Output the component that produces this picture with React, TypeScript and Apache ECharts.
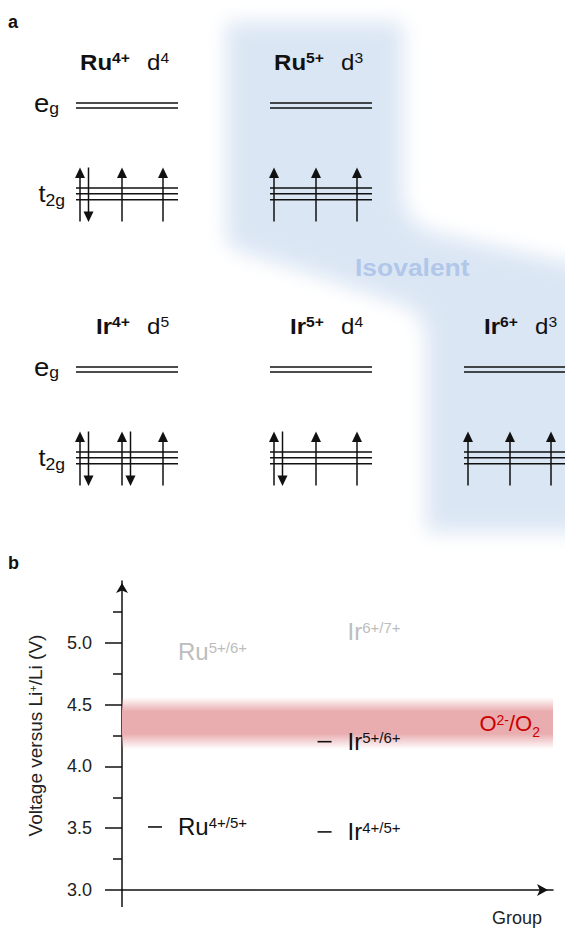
import React, { useEffect, useRef } from 'react';
import * as echarts from 'echarts';

const FONT = '"Liberation Sans", Arial, Helvetica, sans-serif';
const INK = '#111';

// ---------- panel a: t2g / eg diagrams ----------
const ions = ['Ru', 'Ru', 'Ir', 'Ir', 'Ir'];
const ionCharges = ['4+', '5+', '4+', '5+', '6+'];
const dCounts = ['4', '3', '5', '4', '3'];
const ionColumns = [0, 1, 0, 1, 2];
const ionRows = [0, 0, 1, 1, 1];
// electrons per t2g orbital (1 = up, 2 = up + down)
const t2gOccupancy = [
  [2, 1, 1],
  [1, 1, 1],
  [2, 2, 1],
  [2, 1, 1],
  [1, 1, 1],
];
const isovalentLabel = 'Isovalent';

// ---------- panel b: redox couples ----------
const coupleMetals = ['Ru', 'Ru', 'Ir', 'Ir', 'Ir'];
const coupleNames = ['4+/5+', '5+/6+', '4+/5+', '5+/6+', '6+/7+'];
const coupleVoltages = [3.51, 4.93, 3.47, 4.2, 5.09];
const coupleAccessible = [true, false, true, true, false];
const groupX: Record<string, number> = { Ru: 0.0766, Ir: 0.47 };
const oxygenBand = [4.14, 4.56];
const yRange = [3.0, 5.5];
const yMajorTicks = [3.0, 3.5, 4.0, 4.5, 5.0];
const yMinorTicks = [3.25, 3.75, 4.25, 4.75, 5.25];

const blueSvg =
  '<svg xmlns="http://www.w3.org/2000/svg" width="565" height="560" viewBox="0 0 565 560">' +
  '<defs><filter id="f" x="-20%" y="-20%" width="140%" height="140%"><feGaussianBlur stdDeviation="10"/></filter></defs>' +
  '<path d="M226 22 L403 22 L403 195 Q405 226 440 234 L565 262 L640 262 L640 532 L426 532 L426 336 Q424 312 400 304 L300 270 L242 252 Q226 247 226 235 Z" fill="#dbe6f4" filter="url(#f)"/>' +
  '</svg>';
const blueUrl = 'data:image/svg+xml;charset=utf-8,' + encodeURIComponent(blueSvg);

function tok(size: number, weight: string, pad?: number[]) {
  const t: any = { fontSize: size, fontWeight: weight, fontFamily: FONT, fill: INK };
  if (pad) t.padding = pad;
  return t;
}

function renderIon(params: any, api: any) {
  const i = params.dataIndex;
  const c = api.coord([api.value(0), api.value(1)]);
  const cx = c[0];
  const cy = c[1];
  const lw = 1.5;
  const children: any[] = [];
  const hline = (y: number) => ({
    type: 'line',
    shape: { x1: cx - 51, y1: y, x2: cx + 51, y2: y },
    style: { stroke: INK, lineWidth: lw },
  });
  [-2.5, 2.5].forEach((d) => children.push(hline(cy + d)));
  [82.5, 88.3, 94.2].forEach((d) => children.push(hline(cy + d)));
  const slots = [-47, -5, 36];
  t2gOccupancy[i].forEach((n, k) => {
    const x = cx + slots[k];
    children.push({
      type: 'line',
      shape: { x1: x, y1: cy + 116, x2: x, y2: cy + 70 },
      style: { stroke: INK, lineWidth: lw },
    });
    children.push({
      type: 'polygon',
      shape: { points: [[x, cy + 62], [x - 5, cy + 72.5], [x + 5, cy + 72.5]] },
      style: { fill: INK },
    });
    if (n === 2) {
      const xd = x + 8.5;
      children.push({
        type: 'line',
        shape: { x1: xd, y1: cy + 62, x2: xd, y2: cy + 108 },
        style: { stroke: INK, lineWidth: lw },
      });
      children.push({
        type: 'polygon',
        shape: { points: [[xd, cy + 116.5], [xd - 5, cy + 106], [xd + 5, cy + 106]] },
        style: { fill: INK },
      });
    }
  });
  children.push({
    type: 'text',
    x: cx + 3,
    y: cy - 43.5,
    scaleX: 1.12,
    style: {
      text: '{b|' + ions[i] + '}{bs|' + ionCharges[i] + '}',
      rich: { b: tok(21.5, 'bold'), bs: tok(14, 'bold', [0, 0, 7, 0]) },
      align: 'right',
      verticalAlign: 'middle',
      fill: INK,
    },
  });
  children.push({
    type: 'text',
    x: cx + 20,
    y: cy - 43.5,
    scaleX: 1.12,
    style: {
      text: '{r|d}{rs|' + dCounts[i] + '}',
      rich: { r: tok(21.5, 'normal'), rs: tok(14, 'normal', [0, 0, 7, 0]) },
      align: 'left',
      verticalAlign: 'middle',
      fill: INK,
    },
  });
  if (api.value(0) === 0) {
    children.push({
      type: 'text',
      x: cx - 68,
      y: cy - 2.5,
      scaleX: 1.1,
      style: {
        text: '{m|e}{u|g}',
        rich: { m: tok(25, 'normal'), u: tok(16, 'normal', [12, 0, 0, 0]) },
        align: 'right',
        verticalAlign: 'middle',
        fill: INK,
      },
    });
    children.push({
      type: 'text',
      x: cx - 62,
      y: cy + 88.5,
      scaleX: 1.1,
      style: {
        text: '{m|t}{u|2g}',
        rich: { m: tok(23, 'normal'), u: tok(16, 'normal', [13, 0, 0, 0]) },
        align: 'right',
        verticalAlign: 'middle',
        fill: INK,
      },
    });
  }
  return { type: 'group', children };
}

export default function App() {
  const ref = useRef<HTMLDivElement>(null);

  useEffect(() => {
    if (!ref.current) return;
    const chart = echarts.init(ref.current, undefined, { renderer: 'svg' });

    const mkCouple = (accessible: boolean) =>
      coupleMetals
        .map((m, i) => ({
          value: [groupX[m], coupleVoltages[i]],
          metal: m,
          couple: coupleNames[i],
          ok: coupleAccessible[i],
        }))
        .filter((d) => d.ok === accessible);

    const coupleLabel = (color: string) => ({
      show: true,
      position: 'right',
      distance: 16,
      opacity: 1,
      formatter: (p: any) => '{m|' + p.data.metal + '}{s|' + p.data.couple + '}',
      rich: {
        m: { fontSize: 24, fontFamily: FONT, color, opacity: 1 },
        s: { fontSize: 15, fontFamily: FONT, color, opacity: 1, padding: [0, 0, 8, 0] },
      },
    });

    const lineStyle = { color: INK, width: 1.5 };

    const option: any = {
      animation: false,
      backgroundColor: '#fff',
      textStyle: { fontFamily: FONT },
      grid: [
        { left: 127, right: 50, top: 105.5, bottom: 559.5, outerBoundsMode: 'none' },
        { left: 122, right: 12, top: 581, bottom: 39, outerBoundsMode: 'none' },
      ],
      xAxis: [
        { type: 'value', gridIndex: 0, min: 0, max: 2, show: false },
        {
          type: 'value',
          gridIndex: 1,
          min: 0,
          max: 1,
          axisLine: {
            show: true,
            onZero: false,
            symbol: ['none', 'arrow'],
            symbolSize: [9, 11],
            symbolOffset: [0, -5],
            lineStyle,
          },
          axisTick: { show: false },
          axisLabel: { show: false },
          splitLine: { show: false },
          name: 'Group',
          nameLocation: 'end',
          nameGap: -11,
          nameTextStyle: {
            align: 'right',
            verticalAlign: 'top',
            padding: [19, 0, 0, 0],
            fontSize: 18,
            color: '#222',
            fontFamily: FONT,
          },
        },
      ],
      yAxis: [
        { type: 'value', gridIndex: 0, min: 0, max: 1, inverse: true, show: false },
        {
          type: 'value',
          gridIndex: 1,
          position: 'left',
          min: yRange[0],
          max: yRange[1],
          axisLine: {
            show: true,
            onZero: false,
            symbol: ['none', 'arrow'],
            symbolSize: [9, 10],
            symbolOffset: [0, -2],
            lineStyle,
          },
          axisTick: { show: true, length: 17, customValues: yMajorTicks, lineStyle },
          axisLabel: {
            show: true,
            customValues: yMajorTicks,
            formatter: (v: number) => v.toFixed(1),
            margin: 30,
            fontSize: 18,
            color: '#222',
            fontFamily: FONT,
          },
          splitLine: { show: false },
          name: '{a|Voltage versus Li}{s|+}{a|/Li (V)}',
          nameLocation: 'middle',
          nameGap: 77,
          nameRotate: 90,
          nameTextStyle: {
            rich: {
              a: { fontSize: 19, fontFamily: FONT, color: '#222' },
              s: { fontSize: 11, fontFamily: FONT, color: '#222', padding: [0, 0, 6, 0] },
            },
          },
        },
        {
          type: 'value',
          gridIndex: 1,
          position: 'left',
          min: yRange[0],
          max: yRange[1],
          axisLine: { show: false },
          axisTick: { show: true, length: 9, customValues: yMinorTicks, lineStyle },
          axisLabel: { show: false },
          splitLine: { show: false },
        },
      ],
      graphic: {
        elements: [
          {
            type: 'image',
            x: 0,
            y: 0,
            z: 0,
            silent: true,
            style: { image: blueUrl, width: 565, height: 560 },
          },
          {
            type: 'text',
            x: 355,
            y: 268,
            z: 1,
            scaleX: 1.15,
            style: {
              text: isovalentLabel,
              fontSize: 23,
              fontWeight: 'bold',
              fontFamily: FONT,
              fill: '#b1c7ea',
              align: 'left',
              verticalAlign: 'middle',
            },
          },
          {
            type: 'text',
            x: 8,
            y: 22,
            style: { text: 'a', fontSize: 18, fontWeight: 'bold', fontFamily: FONT, fill: INK, verticalAlign: 'middle' },
          },
          {
            type: 'text',
            x: 8,
            y: 563,
            style: { text: 'b', fontSize: 18, fontWeight: 'bold', fontFamily: FONT, fill: INK, verticalAlign: 'middle' },
          },
        ],
      },
      series: [
        {
          type: 'custom',
          name: 'orbitals',
          xAxisIndex: 0,
          yAxisIndex: 0,
          z: 5,
          clip: false,
          renderItem: renderIon,
          data: ionColumns.map((c, i) => [c, ionRows[i]]),
        },
        {
          type: 'scatter',
          name: 'accessible',
          xAxisIndex: 1,
          yAxisIndex: 1,
          symbol: 'rect',
          symbolSize: [14, 1.6],
          itemStyle: { color: INK, opacity: 1 },
          label: coupleLabel(INK),
          data: mkCouple(true),
          markArea: {
            silent: true,
            itemStyle: {
              color: new echarts.graphic.LinearGradient(0, 0, 0, 1, [
                { offset: 0, color: 'rgba(233,172,175,0)' },
                { offset: 0.28, color: 'rgba(233,172,175,1)' },
                { offset: 0.7, color: 'rgba(233,172,175,1)' },
                { offset: 1, color: 'rgba(233,172,175,0)' },
              ]),
            },
            label: {
              show: true,
              position: 'insideRight',
              distance: 13,
              formatter: '{m|O}{p|2-}{m|/O}{u|2}',
              rich: {
                m: { fontSize: 22, fontFamily: FONT, color: '#cc0000' },
                p: { fontSize: 14, fontFamily: FONT, color: '#cc0000', padding: [0, 0, 7, 0] },
                u: { fontSize: 14, fontFamily: FONT, color: '#cc0000', padding: [17, 0, 0, 0] },
              },
            },
            data: [[{ xAxis: 0, yAxis: oxygenBand[1] }, { xAxis: 1, yAxis: oxygenBand[0] }]],
          },
        },
        {
          type: 'scatter',
          name: 'beyond',
          xAxisIndex: 1,
          yAxisIndex: 1,
          symbol: 'rect',
          symbolSize: [14, 1.6],
          itemStyle: { color: 'rgba(0,0,0,0)', opacity: 1 },
          label: coupleLabel('#bdbdbd'),
          data: mkCouple(false),
        },
      ],
    };

    chart.setOption(option);

    const p0 = chart.convertToPixel({ xAxisIndex: 1, yAxisIndex: 1 } as any, [0, yRange[0]]) as number[];
    if (p0) {
      chart.setOption({
        graphic: {
          elements: [
            {
              id: 'yExtension',
              type: 'line',
              shape: { x1: p0[0], y1: p0[1], x2: p0[0], y2: p0[1] + 17 },
              style: { stroke: INK, lineWidth: 1.5 },
            },
          ],
        },
      });
    }

    return () => chart.dispose();
  }, []);

  return (
    <div
      ref={ref}
      style={{ position: 'absolute', left: 0, top: 0, width: 565, height: 929, background: '#fff' }}
    />
  );
}
